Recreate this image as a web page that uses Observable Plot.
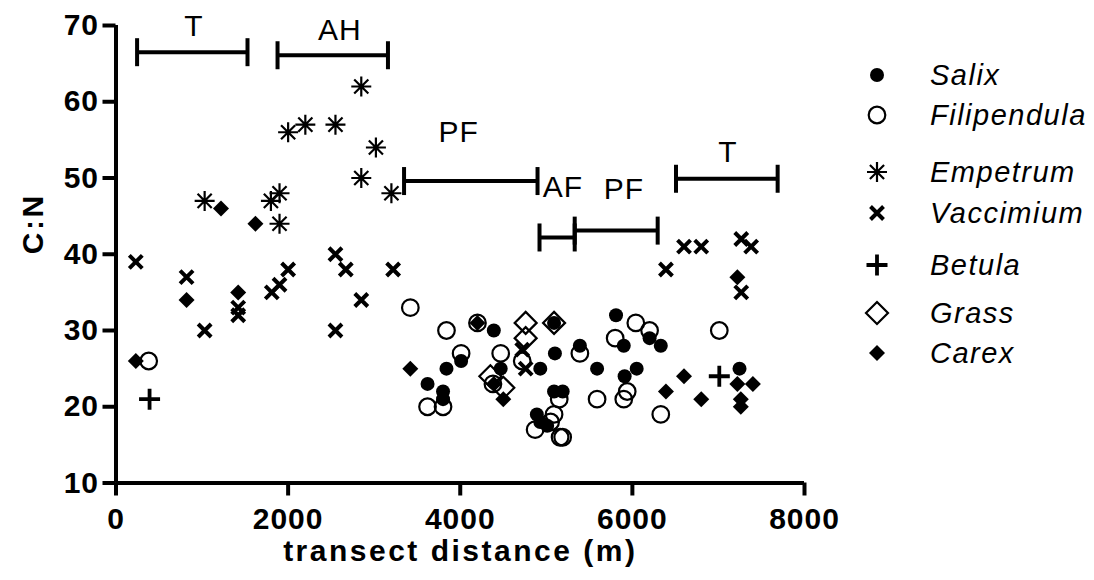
<!DOCTYPE html>
<html><head><meta charset="utf-8">
<script src="https://cdn.jsdelivr.net/npm/d3@7"></script>
<script src="https://cdn.jsdelivr.net/npm/@observablehq/plot@0.6"></script>
<style>
body{margin:0;background:#fff;}
#wrap{position:relative;width:1094px;height:580px;font-family:"Liberation Sans",Arial,sans-serif;}
</style></head><body><div id="wrap"></div>
<script>
// ---- data: [transect distance (m), C:N] ----
const salix = [[3620,23],[3800,22],[3800,21],[3840,25],[4010,26],[4390,30],[4470,25],[4930,25],[5100,27],[5090,31],[5390,28],[5590,25],[5810,32],[5900,28],[6050,25],[5910,24],[6200,29],[6330,28],[7245,25],[5090,22],[5190,22],[4890,19],[4930,18],[5010,17.5]];
const filipendula = [[380,26],[3420,33],[3840,30],[3620,20],[3800,20],[4010,27],[4200,31],[4470,27],[4380,23],[4720,26],[5390,27],[5150,21],[5590,21],[5800,29],[6040,31],[6200,30],[5900,21],[5940,22],[6330,19],[7010,30],[4870,17],[5090,19],[5050,18],[5160,16],[5190,16]];
const empetrum = [[1030,47],[1800,47],[1900,48],[1900,44],[2000,56],[2200,57],[2550,57],[2850,62],[3020,54],[2850,50],[3200,48]];
const vaccimium = [[230,39],[820,37],[1030,30],[1420,33],[1420,32],[1810,35],[1900,36],[2000,38],[2550,40],[2670,38],[2850,34],[2550,30],[3220,38],[4720,27.5],[4760,25],[6390,38],[6600,41],[6800,41],[7265,42],[7380,41],[7265,35]];
const betula = [[390,21],[7010,24]];
const grass = [[4760,31],[4760,29],[5090,31],[4350,24],[4500,22.5]];
const carex = [[230,26],[820,34],[1420,35],[1220,46],[1620,44],[3420,25],[4200,31],[4500,21],[4390,23],[6390,22],[6600,24],[6800,21],[7220,37],[7220,23],[7400,23],[7260,21],[7260,20]];

// zone bars
const rangeLabels = ["T","AH","PF","AF","PF","T"];
const rangeStart = [245,1877,3347,4921,5330,6507];
const rangeEnd   = [1528,3160,4898,5330,6294,7688];
const rangeY     = [66.5,66.1,49.6,42.2,43.1,49.9];
const labelX     = [905,2602,3983,5192,5901,7110];
const labelY     = [69.9,69.3,56.0,48.8,48.5,53.3];

const xTicks = [0,2000,4000,6000,8000];
const yTicks = [10,20,30,40,50,60,70];
const legendNames = ["Salix","Filipendula","Empetrum","Vaccimium","Betula","Grass","Carex"];

// ---- symbols (r = half extent) ----
function sym(draw){ return {draw(ctx,size){ draw(ctx, Math.sqrt(size/Math.PI)); }}; }
const symCircle = sym((c,r)=>{c.moveTo(r,0); c.arc(0,0,r,0,2*Math.PI);});
const symAsterisk = sym((c,r)=>{const d=r*Math.SQRT1_2;
  c.moveTo(0,-r);c.lineTo(0,r);c.moveTo(-r,0);c.lineTo(r,0);
  c.moveTo(-d,-d);c.lineTo(d,d);c.moveTo(-d,d);c.lineTo(d,-d);});
const symTimes = sym((c,r)=>{c.moveTo(-r,-r);c.lineTo(r,r);c.moveTo(-r,r);c.lineTo(r,-r);});
const symPlus = sym((c,r)=>{c.moveTo(-r,0);c.lineTo(r,0);c.moveTo(0,-r);c.lineTo(0,r);});
const symDiamond = sym((c,r)=>{c.moveTo(0,-r);c.lineTo(r,0);c.lineTo(0,r);c.lineTo(-r,0);c.closePath();});
const symCap = sym((c,r)=>{c.moveTo(0,-r);c.lineTo(0,r);});

const styles = {
  Salix:       {symbol:symCircle,  r:7,   fill:"black", stroke:"none", strokeWidth:0},
  Filipendula: {symbol:symCircle,  r:8.3, fill:"none",  stroke:"black", strokeWidth:2.2},
  Empetrum:    {symbol:symAsterisk,r:10,  fill:"none",  stroke:"black", strokeWidth:2.2},
  Vaccimium:   {symbol:symTimes,   r:6.5, fill:"none",  stroke:"black", strokeWidth:4},
  Betula:      {symbol:symPlus,    r:10.5,fill:"none",  stroke:"black", strokeWidth:3.8},
  Grass:       {symbol:symDiamond, r:11,  fill:"none",  stroke:"black", strokeWidth:2.2},
  Carex:       {symbol:symDiamond, r:8,   fill:"black", stroke:"none", strokeWidth:0}
};
const seriesData = {Salix:salix, Filipendula:filipendula, Empetrum:empetrum, Vaccimium:vaccimium, Betula:betula, Grass:grass, Carex:carex};
const drawOrder = ["Filipendula","Grass","Salix","Carex","Vaccimium","Empetrum","Betula"];

const ranges = rangeLabels.map((label,i)=>({label, x1:rangeStart[i], x2:rangeEnd[i], y:rangeY[i], lx:labelX[i], ly:labelY[i]}));
const caps = ranges.flatMap(d=>[{x:d.x1,y:d.y},{x:d.x2,y:d.y}]);

const FONT = "'Liberation Sans', Arial, Helvetica, sans-serif";

const chart = Plot.plot({
  width:1094, height:580,
  marginLeft:115.5, marginRight:290, marginTop:25, marginBottom:97.5,
  x:{domain:[0,8000]}, y:{domain:[10,70]},
  style:{fontFamily:FONT, background:"white", color:"black", overflow:"visible"},
  marks:[
    Plot.axisX({ticks:xTicks, tickFormat:"d", tickSize:13, tickPadding:12, strokeWidth:4, fontSize:30, fontWeight:"bold", label:null}),
    Plot.axisY({ticks:yTicks, tickSize:13, tickPadding:4, strokeWidth:4, fontSize:30, fontWeight:"bold", label:null}),
    Plot.ruleY([10], {strokeWidth:4}),
    Plot.ruleX([0], {strokeWidth:4}),
    Plot.text(["C:N"], {frameAnchor:"left", dx:-83, rotate:-90, fontSize:30, fontWeight:"bold"}),
    Plot.text(["transect distance (m)"], {frameAnchor:"bottom", dy:78, fontSize:30, fontWeight:"bold"}),
    Plot.ruleY(ranges, {y:"y", x1:"x1", x2:"x2", strokeWidth:4}),
    Plot.dot(caps, {x:"x", y:"y", symbol:symCap, r:14, stroke:"black", strokeWidth:4}),
    Plot.text(ranges, {x:"lx", y:"ly", text:"label", fontSize:30, fontWeight:"normal"}),
    ...drawOrder.map(name => {
      const s = styles[name];
      return Plot.dot(seriesData[name], {x:d=>d[0], y:d=>d[1], symbol:s.symbol, r:s.r, fill:s.fill, stroke:s.stroke, strokeWidth:s.strokeWidth});
    })
  ]
});
const wrap = document.getElementById("wrap");
wrap.appendChild(chart);
d3.select(chart).selectAll("text").style("letter-spacing","1px");
d3.select(chart).selectAll("text").filter(function(){ return /transect|C:N/.test(this.textContent); }).style("letter-spacing","2.5px");

// ---- legend overlay ----
const legendRowY = [75,115,172,213,265,313,353];
const leg = d3.select(wrap).append("svg")
  .attr("width",1094).attr("height",580)
  .style("position","absolute").style("left","0px").style("top","0px");
legendNames.forEach((name,i)=>{
  const s = styles[name];
  leg.append("path")
    .attr("d", d3.symbol(s.symbol, Math.PI*s.r*s.r)())
    .attr("transform", `translate(877,${legendRowY[i]})`)
    .attr("fill", s.fill).attr("stroke", s.stroke).attr("stroke-width", s.strokeWidth);
  leg.append("text")
    .attr("x",930).attr("y",legendRowY[i]).attr("dy","0.36em")
    .attr("font-family",FONT).attr("font-size",29).attr("font-style","italic")
    .style("letter-spacing","1.5px")
    .text(name);
});
</script></body></html>
